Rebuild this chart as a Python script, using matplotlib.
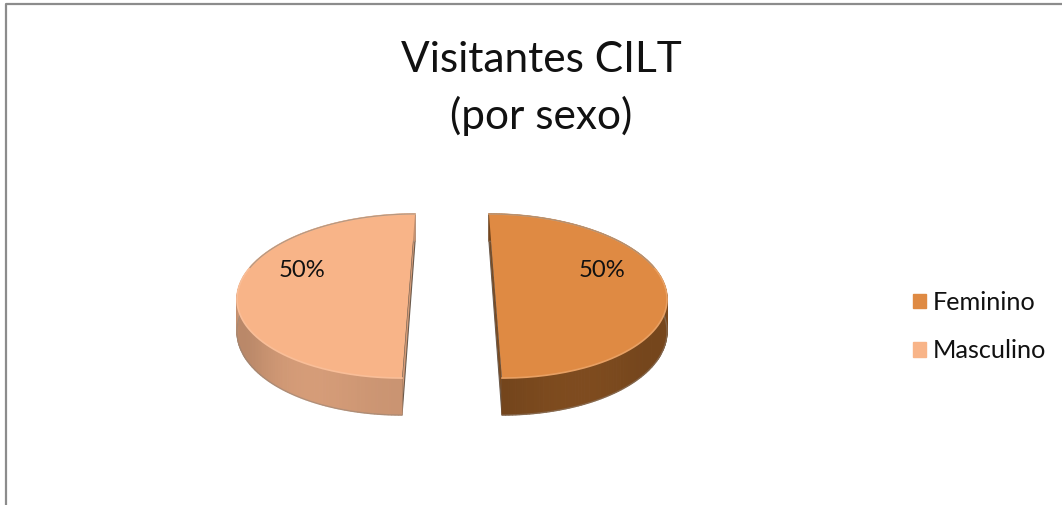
import numpy as np
import matplotlib
matplotlib.use("Agg")
import matplotlib.pyplot as plt
from matplotlib.patches import Patch

categories = ['Feminino', 'Masculino']
values = [50, 50]
top_colors = ['#DF8A43', '#F8B488']
side_colors = ['#7C4A1E', '#D59C78']
rim_colors = ['#E8A063', '#F9BE98']

# pie geometry in pixels, tilted with a small perspective
CX, CY = 452, 283.7
A, B = 169.5, 80.2
K = 0.15
EXPLODE = 42.5
DEPTH = 31.5


def project(t, r, mid):
    sx = r * A * np.sin(t) + EXPLODE * np.sin(mid)
    z = r * np.cos(t)
    s = 1 / (1 + K * z)
    return CX + sx * s, CY - B * z * s, s


def main():
    fig = plt.figure(figsize=(10.62, 5.05), dpi=100)
    ax = fig.add_axes([0, 0, 1, 1])
    ax.set_xlim(0, 1062)
    ax.set_ylim(505, 0)
    ax.axis('off')
    plt.rcParams['font.family'] = ['Lato', 'DejaVu Sans']

    # chart frame, only top and left show in the crop
    ax.plot([6, 6, 1062], [505, 4, 4], color='#8c8c8c', lw=1.6)

    fractions = np.array(values) / sum(values)
    edges = np.concatenate([[0], np.cumsum(fractions)]) * 2 * np.pi

    for i in range(len(values)):
        t0, t1 = edges[i], edges[i + 1]
        mid = (t0 + t1) / 2
        t = np.linspace(t0, t1, 181)
        x, y, s = project(t, 1, mid)
        ax_, ay_, as_ = project(t0, 0, mid)
        y_low = y + DEPTH * s
        ay_low = ay_ + DEPTH * as_

        # cut face, seen as a thin sliver
        sx0, sy0, ss0 = project(t0, 1, mid)
        sx1, sy1, ss1 = project(t1, 1, mid)
        ax.fill([sx0, ax_, sx1, sx1, ax_, sx0],
                [sy0, ay_, sy1, sy1 + DEPTH * ss1, ay_low, sy0 + DEPTH * ss0],
                color=side_colors[i], lw=0.8, ec='#6b5a4c', zorder=2)

        # outer wall, cut into strips so it can shade across
        base = np.array(matplotlib.colors.to_rgb(side_colors[i]))
        for j in range(len(t) - 1):
            shade = 0.95 + 0.08 * np.sin(j / 14) * np.sin(j / 37)
            ax.fill([x[j], x[j + 1], x[j + 1], x[j]],
                    [y[j], y[j + 1], y_low[j + 1], y_low[j]],
                    color=np.clip(base * shade, 0, 1), lw=0.8, zorder=3)
        ax.plot(x, y_low, color='#8f8378', lw=1.0, alpha=0.5, zorder=3)

        # top face
        ax.fill(np.r_[ax_, x], np.r_[ay_, y], color=top_colors[i], lw=0, zorder=4)
        ax.plot(x, y, color=rim_colors[i], lw=1.2, zorder=5)
        far = np.cos(t) > 0.2
        ax.plot(x[far], y[far], color='#9a8878', lw=0.9, alpha=0.7, zorder=5)

        # data label
        lx, ly, _ = project(mid + (np.pi / 2 - 72 * np.pi / 180) * (-1 if i == 0 else 1), 0.7, mid)
        ax.text(lx, ly + 4, '%d%%' % round(fractions[i] * 100), fontsize=17.2,
                ha='center', va='center', color='#111111', zorder=6)

    ax.text(541, 60, 'Visitantes CILT', fontsize=30.5, ha='center', va='center', color='#111111')
    ax.text(541, 116, '(por sexo)', fontsize=30.5, ha='center', va='center', color='#111111')

    handles = [Patch(color=c) for c in top_colors]
    ax.legend(handles, categories, loc='upper left', bbox_to_anchor=(913 / 1062, 1 - 291 / 505),
              frameon=False, fontsize=18.2, handlelength=0.51, handleheight=0.51,
              handletextpad=0.28, labelspacing=1.0, borderpad=0, borderaxespad=0,
              labelcolor='#111111')

    fig.savefig('out.png', dpi=100)


if __name__ == "__main__":
    main()
